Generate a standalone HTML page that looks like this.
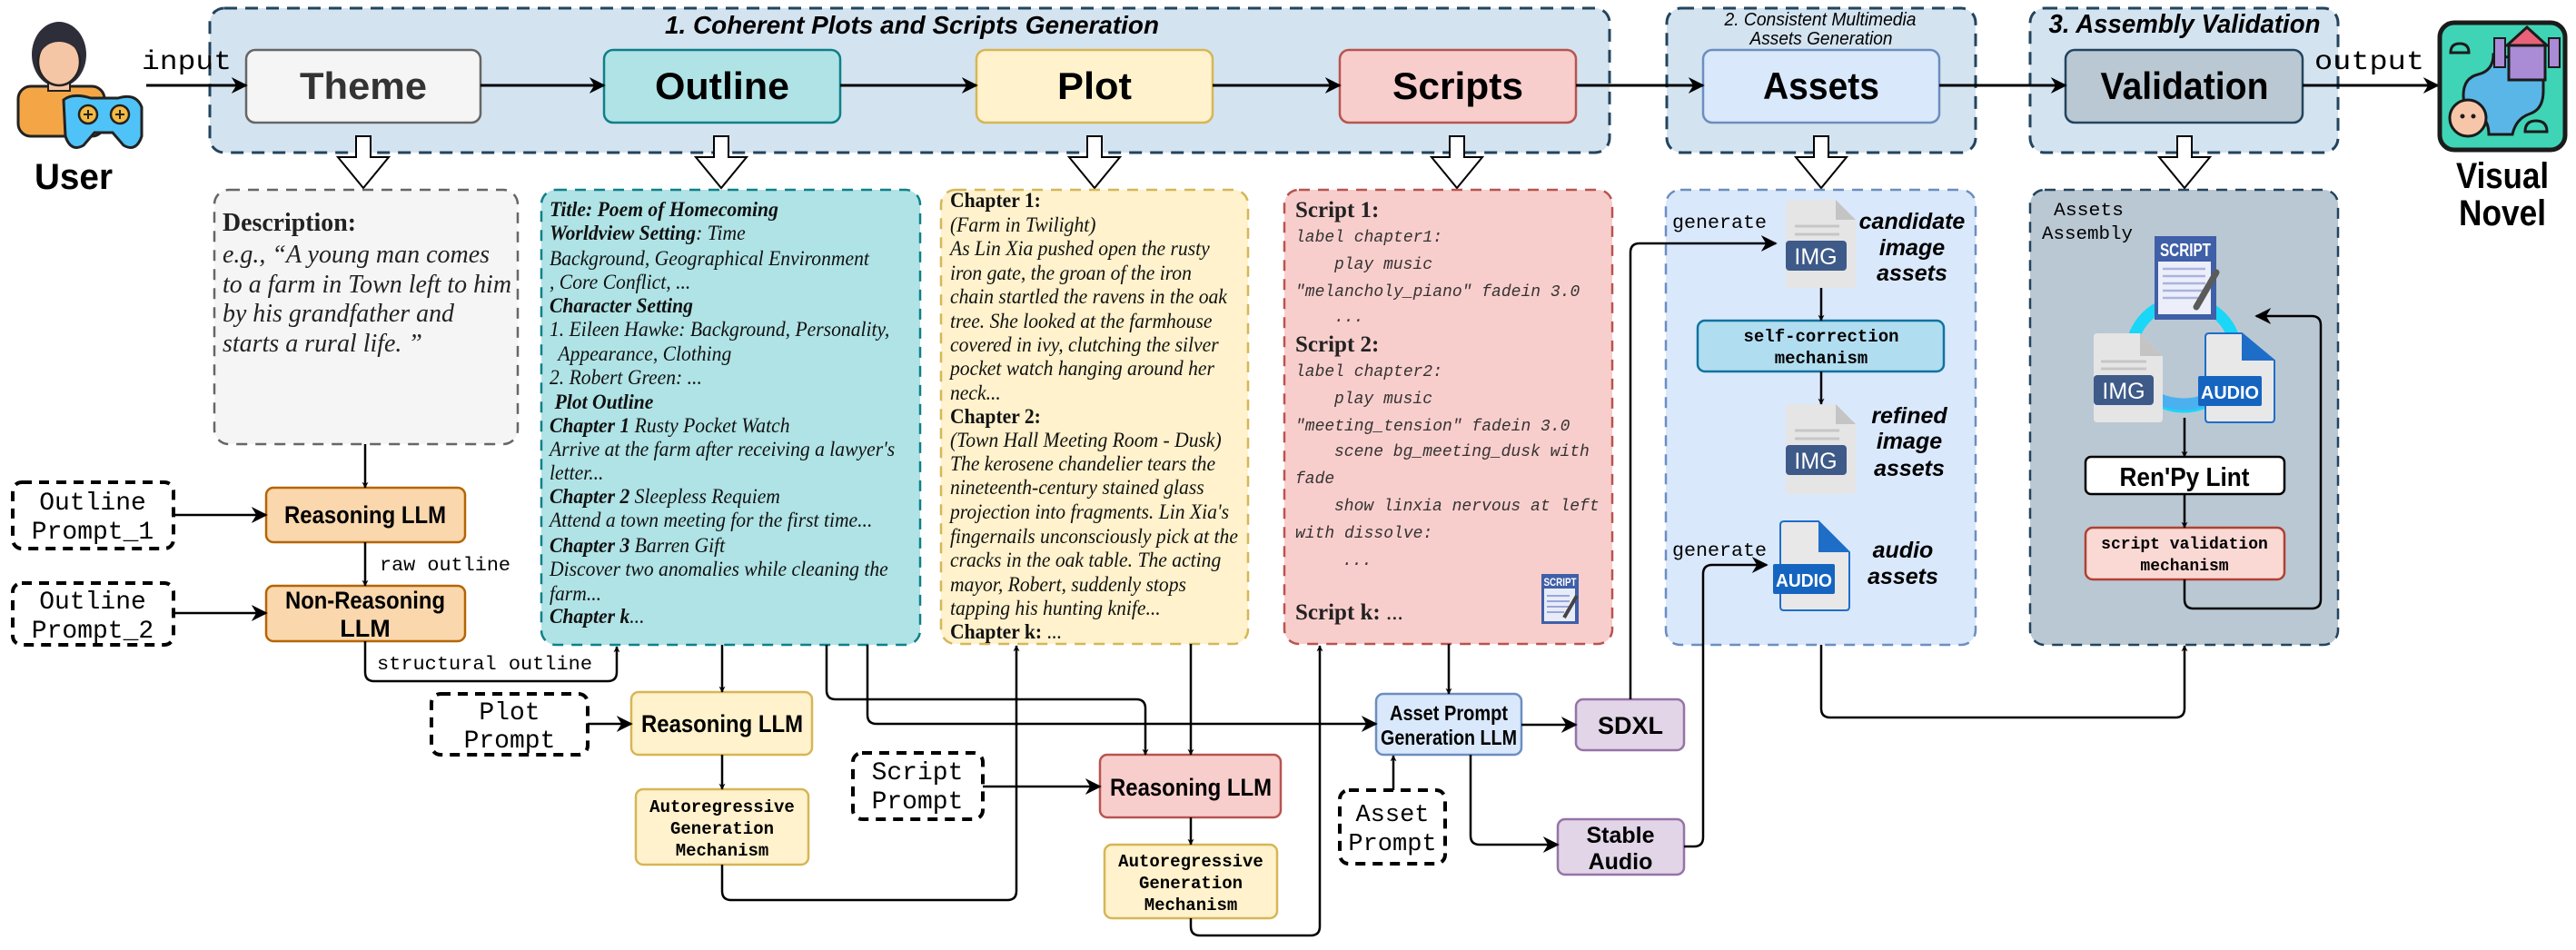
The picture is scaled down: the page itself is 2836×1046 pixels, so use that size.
<!DOCTYPE html>
<html><head><meta charset="utf-8"><style>
html,body{margin:0;padding:0;background:#fff;}
svg{display:block;}
.mono{font-family:"Liberation Mono",monospace;}
.sans{font-family:"Liberation Sans",sans-serif;}
.serif{font-family:"Liberation Serif",serif;}
</style></head><body>
<svg width="2836" height="1046" viewBox="0 0 2836 1046" xmlns="http://www.w3.org/2000/svg">
<defs>
<marker id="ah" viewBox="0 0 10 10" refX="9" refY="5" markerWidth="7" markerHeight="7" markerUnits="userSpaceOnUse" orient="auto"><path d="M0,0 L10,5 L0,10 L3,5 Z" fill="#000"/></marker>
<marker id="ab" viewBox="0 0 10 10" refX="9" refY="5" markerWidth="18" markerHeight="18" markerUnits="userSpaceOnUse" orient="auto"><path d="M0,0 L10,5 L0,10 L3,5 Z" fill="#000"/></marker>
</defs>

<rect x="231" y="9" width="1541" height="159" rx="16" fill="#d4e3f0" stroke="#23445d" stroke-width="3" stroke-dasharray="14 9"/>
<rect x="1835" y="9" width="340" height="159" rx="16" fill="#d4e3f0" stroke="#23445d" stroke-width="3" stroke-dasharray="14 9"/>
<rect x="2235" y="9" width="339" height="159" rx="16" fill="#d4e3f0" stroke="#23445d" stroke-width="3" stroke-dasharray="14 9"/>

<text x="1004" y="37" text-anchor="middle" class="sans" font-size="28" font-style="italic" font-weight="bold" textLength="544" lengthAdjust="spacingAndGlyphs">1. Coherent Plots and Scripts Generation</text>
<text x="2004" y="28" text-anchor="middle" class="sans" font-size="20" font-style="italic" textLength="211" lengthAdjust="spacingAndGlyphs">2. Consistent Multimedia</text>
<text x="2005" y="49" text-anchor="middle" class="sans" font-size="20" font-style="italic" textLength="157" lengthAdjust="spacingAndGlyphs">Assets Generation</text>
<text x="2405" y="36" text-anchor="middle" class="sans" font-size="29" font-style="italic" font-weight="bold" textLength="299" lengthAdjust="spacingAndGlyphs">3. Assembly Validation</text>

<rect x="271" y="55" width="258" height="80" rx="10" fill="#f5f5f5" stroke="#666" stroke-width="2.5"/>
<text x="400" y="109" text-anchor="middle" class="sans" font-size="42" font-weight="bold" fill="#333" textLength="140" lengthAdjust="spacingAndGlyphs">Theme</text>
<rect x="665" y="55" width="260" height="80" rx="10" fill="#b0e3e6" stroke="#0e8088" stroke-width="2.5"/>
<text x="795" y="109" text-anchor="middle" class="sans" font-size="42" font-weight="bold" textLength="148" lengthAdjust="spacingAndGlyphs">Outline</text>
<rect x="1075" y="55" width="260" height="80" rx="10" fill="#fff2cc" stroke="#d6b656" stroke-width="2.5"/>
<text x="1205" y="109" text-anchor="middle" class="sans" font-size="42" font-weight="bold" textLength="82" lengthAdjust="spacingAndGlyphs">Plot</text>
<rect x="1475" y="55" width="260" height="80" rx="10" fill="#f8cecc" stroke="#b85450" stroke-width="2.5"/>
<text x="1605" y="109" text-anchor="middle" class="sans" font-size="42" font-weight="bold" textLength="144" lengthAdjust="spacingAndGlyphs">Scripts</text>
<rect x="1875" y="55" width="260" height="80" rx="10" fill="#dae8fc" stroke="#6c8ebf" stroke-width="2.5"/>
<text x="2005" y="109" text-anchor="middle" class="sans" font-size="42" font-weight="bold" textLength="128" lengthAdjust="spacingAndGlyphs">Assets</text>
<rect x="2274" y="55" width="261" height="80" rx="10" fill="#bac8d3" stroke="#23445d" stroke-width="2.5"/>
<text x="2405" y="109" text-anchor="middle" class="sans" font-size="42" font-weight="bold" textLength="185" lengthAdjust="spacingAndGlyphs">Validation</text>

<g stroke="#000" stroke-width="3" fill="none">
<line x1="161" y1="94" x2="271" y2="94" marker-end="url(#ab)"/>
<line x1="529" y1="94" x2="665" y2="94" marker-end="url(#ab)"/>
<line x1="925" y1="94" x2="1075" y2="94" marker-end="url(#ab)"/>
<line x1="1335" y1="94" x2="1475" y2="94" marker-end="url(#ab)"/>
<line x1="1735" y1="94" x2="1875" y2="94" marker-end="url(#ab)"/>
<line x1="2135" y1="94" x2="2274" y2="94" marker-end="url(#ab)"/>
<line x1="2535" y1="94" x2="2684" y2="94" marker-end="url(#ab)"/>
</g>
<text x="156" y="76" class="mono" font-size="30" textLength="99" lengthAdjust="spacingAndGlyphs">input</text>
<text x="2548" y="76" class="mono" font-size="30" textLength="121" lengthAdjust="spacingAndGlyphs">output</text>

<g fill="#fff" stroke="#000" stroke-width="2">
<path d="M392,150 H408 V173 H428 L400,207 L372,173 H392 Z"/>
<path d="M786,150 H802 V173 H822 L794,207 L766,173 H786 Z"/>
<path d="M1197,150 H1213 V173 H1233 L1205,207 L1177,173 H1197 Z"/>
<path d="M1596,150 H1612 V173 H1632 L1604,207 L1576,173 H1596 Z"/>
<path d="M1997,150 H2013 V173 H2033 L2005,207 L1977,173 H1997 Z"/>
<path d="M2397,150 H2413 V173 H2433 L2405,207 L2377,173 H2397 Z"/>
</g>

<g>
<rect x="20" y="95" width="95" height="55" rx="14" fill="#f4a646" stroke="#222" stroke-width="3"/>
<ellipse cx="65" cy="60" rx="30" ry="36" fill="#2e2e3a"/>
<rect x="53" y="80" width="24" height="20" fill="#f5c6a5" stroke="#222" stroke-width="2"/>
<ellipse cx="65" cy="68" rx="23" ry="26" fill="#f5c6a5" stroke="#222" stroke-width="2.5"/>
<path d="M42,62 Q45,30 65,32 Q88,30 90,62 Q80,46 65,46 Q50,46 42,62Z" fill="#2e2e3a"/>
<path d="M70,110 Q80,102 100,108 L130,108 Q150,102 156,118 L156,150 Q150,168 136,160 L124,146 L104,146 L92,160 Q78,168 72,150 Z" fill="#4fc3f7" stroke="#222" stroke-width="3"/>
<circle cx="97" cy="126" r="10" fill="#f4b942" stroke="#222" stroke-width="2.5"/>
<circle cx="132" cy="126" r="10" fill="#f4b942" stroke="#222" stroke-width="2.5"/>
<path d="M92,126 H102 M97,121 V131 M127,126 H137 M132,121 V131" stroke="#222" stroke-width="2"/>
</g>
<text x="38" y="208" class="sans" font-size="40" font-weight="bold" textLength="86" lengthAdjust="spacingAndGlyphs">User</text>

<g>
<rect x="2686" y="25" width="138" height="140" rx="16" fill="#3fd4b6" stroke="#1b1b1b" stroke-width="5"/>
<path d="M2745,60 Q2745,78 2728,82 Q2712,86 2712,105 Q2712,120 2726,125 Q2740,130 2740,148 L2766,148 Q2770,130 2786,125 Q2800,120 2800,100 L2800,70 Z" fill="#5ab6e6" stroke="#1b1b1b" stroke-width="3"/>
<rect x="2762" y="50" width="40" height="38" fill="#a98bd6" stroke="#1b1b1b" stroke-width="3"/>
<path d="M2760,50 L2782,30 L2804,50 Z" fill="#e8627a" stroke="#1b1b1b" stroke-width="3"/>
<rect x="2746" y="42" width="12" height="32" fill="#a98bd6" stroke="#1b1b1b" stroke-width="2"/>
<rect x="2806" y="42" width="12" height="32" fill="#a98bd6" stroke="#1b1b1b" stroke-width="2"/>
<circle cx="2717" cy="130" r="20" fill="#f7c6a8" stroke="#1b1b1b" stroke-width="3"/>
<circle cx="2711" cy="128" r="2.5" fill="#1b1b1b"/><circle cx="2723" cy="128" r="2.5" fill="#1b1b1b"/>
<path d="M2698,58 q0,-10 10,-10 q10,0 10,10 z" fill="#3fd4b6" stroke="#1b1b1b" stroke-width="3"/>
<path d="M2780,145 q0,-12 12,-12 q12,0 12,12 z" fill="#3fd4b6" stroke="#1b1b1b" stroke-width="3"/>
</g>
<text x="2755" y="207" text-anchor="middle" class="sans" font-size="40" font-weight="bold" textLength="102" lengthAdjust="spacingAndGlyphs">Visual</text>
<text x="2755" y="248" text-anchor="middle" class="sans" font-size="40" font-weight="bold" textLength="96" lengthAdjust="spacingAndGlyphs">Novel</text>

<rect x="236" y="209" width="334" height="280" rx="16" fill="#f5f5f5" stroke="#666" stroke-width="2.5" stroke-dasharray="12 9"/>
<rect x="596" y="209" width="417" height="501" rx="16" fill="#b0e3e6" stroke="#0e8088" stroke-width="2.5" stroke-dasharray="12 9"/>
<rect x="1036" y="209" width="338" height="500" rx="16" fill="#fff2cc" stroke="#d6b656" stroke-width="2.5" stroke-dasharray="12 9"/>
<rect x="1414" y="209" width="361" height="500" rx="16" fill="#f8cecc" stroke="#b85450" stroke-width="2.5" stroke-dasharray="12 9"/>
<rect x="1834" y="209" width="341" height="501" rx="16" fill="#dae8fc" stroke="#6c8ebf" stroke-width="2.5" stroke-dasharray="12 9"/>
<rect x="2235" y="209" width="339" height="501" rx="16" fill="#bac8d3" stroke="#23445d" stroke-width="2.5" stroke-dasharray="12 9"/>

<g class="serif" fill="#222">
<text x="245" y="254" font-size="28" font-weight="bold" textLength="147" lengthAdjust="spacingAndGlyphs">Description:</text>
<g font-size="28" font-style="italic">
<text x="245" y="289" textLength="294" lengthAdjust="spacingAndGlyphs">e.g., “A young man comes</text>
<text x="245" y="322" textLength="318" lengthAdjust="spacingAndGlyphs">to a farm in Town left to him</text>
<text x="245" y="354" textLength="255" lengthAdjust="spacingAndGlyphs">by his grandfather and</text>
<text x="245" y="387" textLength="220" lengthAdjust="spacingAndGlyphs">starts a rural life. ”</text>
</g></g>

<g class="serif" font-size="23" font-style="italic" fill="#111" transform="translate(605,0) scale(0.94,1) translate(-605,0)">
<text x="605" y="238" font-weight="bold">Title: Poem of Homecoming</text>
<text x="605" y="264"><tspan font-weight="bold">Worldview Setting</tspan>: Time</text>
<text x="605" y="292">Background, Geographical Environment</text>
<text x="605" y="318">, Core Conflict, ...</text>
<text x="605" y="344" font-weight="bold">Character Setting</text>
<text x="605" y="370">1. Eileen Hawke: Background, Personality,</text>
<text x="615" y="397">Appearance, Clothing</text>
<text x="605" y="423">2. Robert Green: ...</text>
<text x="611" y="450" font-weight="bold">Plot Outline</text>
<text x="605" y="476"><tspan font-weight="bold">Chapter 1</tspan> Rusty Pocket Watch</text>
<text x="605" y="502">Arrive at the farm after receiving a lawyer's</text>
<text x="605" y="528">letter...</text>
<text x="605" y="554"><tspan font-weight="bold">Chapter 2</tspan> Sleepless Requiem</text>
<text x="605" y="580">Attend a town meeting for the first time...</text>
<text x="605" y="608"><tspan font-weight="bold">Chapter 3</tspan> Barren Gift</text>
<text x="605" y="634">Discover two anomalies while cleaning the</text>
<text x="605" y="661">farm...</text>
<text x="605" y="686"><tspan font-weight="bold">Chapter k</tspan>...</text>
</g>

<g class="serif" font-size="23" fill="#111" transform="translate(1046,0) scale(0.94,1) translate(-1046,0)">
<text x="1046" y="228" font-weight="bold">Chapter 1:</text>
<g font-style="italic">
<text x="1046" y="255">(Farm in Twilight)</text>
<text x="1046" y="281">As Lin Xia pushed open the rusty</text>
<text x="1046" y="308">iron gate, the groan of the iron</text>
<text x="1046" y="334">chain startled the ravens in the oak</text>
<text x="1046" y="361">tree. She looked at the farmhouse</text>
<text x="1046" y="387">covered in ivy, clutching the silver</text>
<text x="1046" y="413">pocket watch hanging around her</text>
<text x="1046" y="440">neck...</text>
</g>
<text x="1046" y="466" font-weight="bold">Chapter 2:</text>
<g font-style="italic">
<text x="1046" y="492">(Town Hall Meeting Room - Dusk)</text>
<text x="1046" y="518">The kerosene chandelier tears the</text>
<text x="1046" y="544">nineteenth-century stained glass</text>
<text x="1046" y="571">projection into fragments. Lin Xia's</text>
<text x="1046" y="598">fingernails unconsciously pick at the</text>
<text x="1046" y="624">cracks in the oak table. The acting</text>
<text x="1046" y="651">mayor, Robert, suddenly stops</text>
<text x="1046" y="677">tapping his hunting knife...</text>
</g>
<text x="1046" y="703"><tspan font-weight="bold">Chapter k:</tspan> ...</text>
</g>

<g fill="#222">
<text x="1426" y="239" class="serif" font-size="25" font-weight="bold">Script 1:</text>
<g class="mono" font-size="18" font-style="italic" fill="#333">
<text x="1426" y="266">label chapter1:</text>
<text x="1469" y="296">play music</text>
<text x="1426" y="326">"melancholy_piano" fadein 3.0</text>
<text x="1469" y="354">...</text>
</g>
<text x="1426" y="387" class="serif" font-size="25" font-weight="bold">Script 2:</text>
<g class="mono" font-size="18" font-style="italic" fill="#333">
<text x="1426" y="414">label chapter2:</text>
<text x="1469" y="444">play music</text>
<text x="1426" y="474">"meeting_tension" fadein 3.0</text>
<text x="1469" y="502">scene bg_meeting_dusk with</text>
<text x="1426" y="532">fade</text>
<text x="1469" y="562">show linxia nervous at left</text>
<text x="1426" y="592">with dissolve:</text>
<text x="1478" y="622">...</text>
</g>
<text x="1426" y="682" class="serif" font-size="25"><tspan font-weight="bold">Script k:</tspan> ...</text>
</g>
<g>
<rect x="1697" y="632" width="41" height="55" fill="#3f5fa8"/>
<rect x="1700" y="648" width="34" height="36" fill="#e8ecf8"/>
<text x="1717.5" y="645" text-anchor="middle" class="sans" font-size="12" font-weight="bold" fill="#fff" textLength="36" lengthAdjust="spacingAndGlyphs">SCRIPT</text>
<path d="M1703,656 H1728 M1703,662 H1728 M1703,668 H1728 M1703,674 H1722" stroke="#9aa6d8" stroke-width="2"/>
<path d="M1722,680 L1736,656" stroke="#444" stroke-width="4"/>
</g>

<text x="1841" y="251" class="mono" font-size="21" textLength="104" lengthAdjust="spacingAndGlyphs">generate</text>
<g>
<path d="M1970,220 H2021 L2043,242 V313 Q2043,317 2039,317 H1970 Q1966,317 1966,313 V224 Q1966,220 1970,220Z" fill="#e5e5e5"/>
<path d="M2021,220 V242 H2043Z" fill="#c4c4c4"/>
<path d="M1976,249 H2025 M1976,258 H2025" stroke="#c6c6c6" stroke-width="3"/>
<rect x="1966" y="265" width="67" height="33" rx="4" fill="#3d5a88"/>
<text x="1999" y="291" text-anchor="middle" class="sans" font-size="25" fill="#fff">IMG</text>
</g>
<g class="sans" font-size="25" font-style="italic" font-weight="bold" text-anchor="middle">
<text x="2105" y="252">candidate</text>
<text x="2105" y="281">image</text>
<text x="2105" y="309">assets</text>
</g>
<rect x="1869" y="353" width="271" height="56" rx="8" fill="#b1ddf0" stroke="#10739e" stroke-width="2.5"/>
<g class="mono" font-size="19" font-weight="bold" text-anchor="middle">
<text x="2005" y="376">self-correction</text>
<text x="2005" y="400">mechanism</text>
</g>
<g>
<path d="M1970,445 H2021 L2043,467 V540 Q2043,544 2039,544 H1970 Q1966,544 1966,540 V449 Q1966,445 1970,445Z" fill="#e5e5e5"/>
<path d="M2021,445 V467 H2043Z" fill="#c4c4c4"/>
<path d="M1976,474 H2025 M1976,483 H2025" stroke="#c6c6c6" stroke-width="3"/>
<rect x="1966" y="490" width="67" height="33" rx="4" fill="#3d5a88"/>
<text x="1999" y="516" text-anchor="middle" class="sans" font-size="25" fill="#fff">IMG</text>
</g>
<g class="sans" font-size="25" font-style="italic" font-weight="bold" text-anchor="middle">
<text x="2102" y="466">refined</text>
<text x="2102" y="494">image</text>
<text x="2102" y="524">assets</text>
</g>
<text x="1841" y="612" class="mono" font-size="21" textLength="104" lengthAdjust="spacingAndGlyphs">generate</text>
<g>
<path d="M1964,574 H2002 L2036,608 V668 Q2036,672 2032,672 H1964 Q1960,672 1960,668 V578 Q1960,574 1964,574Z" fill="#e8e8e8" stroke="#1e6ec8" stroke-width="2"/>
<path d="M2002,574 V608 H2036Z" fill="#1e6ec8"/>
<rect x="1952" y="621" width="68" height="33" rx="2" fill="#1565c0"/>
<text x="1986" y="646" text-anchor="middle" class="sans" font-size="20" font-weight="bold" fill="#fff" textLength="62" lengthAdjust="spacingAndGlyphs">AUDIO</text>
</g>
<g class="sans" font-size="25" font-style="italic" font-weight="bold" text-anchor="middle">
<text x="2095" y="614">audio</text>
<text x="2095" y="643">assets</text>
</g>

<g class="mono" font-size="20">
<text x="2261" y="237" textLength="77" lengthAdjust="spacingAndGlyphs">Assets</text>
<text x="2248" y="263" textLength="100" lengthAdjust="spacingAndGlyphs">Assembly</text>
</g>
<circle cx="2404" cy="390" r="58" fill="none" stroke="#1ad6f7" stroke-width="13"/>
<path d="M2346,420 Q2404,470 2462,420" fill="none" stroke="#4ab0f0" stroke-width="13"/>
<g>
<rect x="2372" y="260" width="68" height="92" fill="#3f5fa8"/>
<rect x="2376" y="288" width="58" height="58" fill="#eceff9"/>
<text x="2406" y="282" text-anchor="middle" class="sans" font-size="20" font-weight="bold" fill="#fff" textLength="56" lengthAdjust="spacingAndGlyphs">SCRIPT</text>
<path d="M2381,296 H2428 M2381,304 H2428 M2381,312 H2428 M2381,320 H2428 M2381,328 H2420" stroke="#aab3e0" stroke-width="2.5"/>
<path d="M2418,338 L2440,300" stroke="#5a5a5a" stroke-width="7" stroke-linecap="round"/>
</g>
<g>
<path d="M2309,367 H2356 L2381,392 V461 Q2381,465 2377,465 H2309 Q2305,465 2305,461 V371 Q2305,367 2309,367Z" fill="#e5e5e5"/>
<path d="M2356,367 V392 H2381Z" fill="#c4c4c4"/>
<path d="M2313,398 H2363 M2313,406 H2363" stroke="#c6c6c6" stroke-width="3"/>
<rect x="2305" y="413" width="66" height="33" rx="4" fill="#3d5a88"/>
<text x="2338" y="439" text-anchor="middle" class="sans" font-size="25" fill="#fff">IMG</text>
</g>
<g>
<path d="M2432,367 H2468 L2504,397 V461 Q2504,465 2500,465 H2432 Q2428,465 2428,461 V371 Q2428,367 2432,367Z" fill="#e8e8e8" stroke="#1e6ec8" stroke-width="2"/>
<path d="M2468,367 V397 H2504Z" fill="#1e6ec8"/>
<rect x="2420" y="414" width="70" height="33" rx="2" fill="#1565c0"/>
<text x="2455" y="439" text-anchor="middle" class="sans" font-size="20" font-weight="bold" fill="#fff" textLength="64" lengthAdjust="spacingAndGlyphs">AUDIO</text>
</g>
<rect x="2296" y="503" width="219" height="41" rx="6" fill="#fff" stroke="#000" stroke-width="2.5"/>
<text x="2405" y="535" text-anchor="middle" class="sans" font-size="29" font-weight="bold" textLength="143" lengthAdjust="spacingAndGlyphs">Ren'Py Lint</text>
<rect x="2296" y="581" width="219" height="57" rx="8" fill="#fad9d5" stroke="#ae4132" stroke-width="2.5"/>
<g class="mono" font-size="18" font-weight="bold" text-anchor="middle">
<text x="2405" y="604">script validation</text>
<text x="2405" y="628">mechanism</text>
</g>

<rect x="14" y="531" width="177" height="73" rx="10" fill="#fff" stroke="#000" stroke-width="4" stroke-dasharray="11 8"/>
<g class="mono" font-size="28" text-anchor="middle"><text x="102" y="561">Outline</text><text x="102" y="593">Prompt_1</text></g>
<rect x="14" y="642" width="177" height="68" rx="10" fill="#fff" stroke="#000" stroke-width="4" stroke-dasharray="11 8"/>
<g class="mono" font-size="28" text-anchor="middle"><text x="102" y="670">Outline</text><text x="102" y="702">Prompt_2</text></g>

<rect x="293" y="537" width="219" height="60" rx="8" fill="#fad7ac" stroke="#b46504" stroke-width="2.5"/>
<text x="402" y="576" text-anchor="middle" class="sans" font-size="27" font-weight="bold" textLength="178" lengthAdjust="spacingAndGlyphs">Reasoning LLM</text>
<rect x="293" y="645" width="219" height="61" rx="8" fill="#fad7ac" stroke="#b46504" stroke-width="2.5"/>
<text x="402" y="670" text-anchor="middle" class="sans" font-size="27" font-weight="bold" textLength="176" lengthAdjust="spacingAndGlyphs">Non-Reasoning</text>
<text x="402" y="701" text-anchor="middle" class="sans" font-size="27" font-weight="bold">LLM</text>
<text x="418" y="628" class="mono" font-size="21" textLength="144" lengthAdjust="spacingAndGlyphs">raw outline</text>
<text x="415" y="737" class="mono" font-size="21" textLength="237" lengthAdjust="spacingAndGlyphs">structural outline</text>

<rect x="475" y="764" width="172" height="67" rx="10" fill="#fff" stroke="#000" stroke-width="4" stroke-dasharray="11 8"/>
<g class="mono" font-size="28" text-anchor="middle"><text x="561" y="792">Plot</text><text x="561" y="823">Prompt</text></g>
<rect x="695" y="762" width="199" height="69" rx="8" fill="#fff2cc" stroke="#d6b656" stroke-width="2.5"/>
<text x="795" y="806" text-anchor="middle" class="sans" font-size="27" font-weight="bold" textLength="178" lengthAdjust="spacingAndGlyphs">Reasoning LLM</text>
<rect x="700" y="869" width="190" height="83" rx="8" fill="#fff2cc" stroke="#d6b656" stroke-width="2.5"/>
<g class="mono" font-size="19" font-weight="bold" text-anchor="middle"><text x="795" y="894">Autoregressive</text><text x="795" y="918">Generation</text><text x="795" y="942">Mechanism</text></g>

<rect x="939" y="829" width="143" height="73" rx="10" fill="#fff" stroke="#000" stroke-width="4" stroke-dasharray="11 8"/>
<g class="mono" font-size="28" text-anchor="middle"><text x="1010" y="858">Script</text><text x="1010" y="890">Prompt</text></g>
<rect x="1211" y="831" width="199" height="69" rx="8" fill="#f8cecc" stroke="#b85450" stroke-width="2.5"/>
<text x="1311" y="876" text-anchor="middle" class="sans" font-size="27" font-weight="bold" textLength="178" lengthAdjust="spacingAndGlyphs">Reasoning LLM</text>
<rect x="1216" y="930" width="190" height="81" rx="8" fill="#fff2cc" stroke="#d6b656" stroke-width="2.5"/>
<g class="mono" font-size="19" font-weight="bold" text-anchor="middle"><text x="1311" y="954">Autoregressive</text><text x="1311" y="978">Generation</text><text x="1311" y="1002">Mechanism</text></g>

<rect x="1515" y="764" width="160" height="67" rx="8" fill="#dae8fc" stroke="#6c8ebf" stroke-width="2.5"/>
<g class="sans" font-size="23" font-weight="bold" text-anchor="middle"><text x="1595" y="793" textLength="130" lengthAdjust="spacingAndGlyphs">Asset Prompt</text><text x="1595" y="820" textLength="150" lengthAdjust="spacingAndGlyphs">Generation LLM</text></g>
<rect x="1475" y="870" width="116" height="81" rx="10" fill="#fff" stroke="#000" stroke-width="4" stroke-dasharray="11 8"/>
<g class="mono" font-size="27" text-anchor="middle"><text x="1533" y="904">Asset</text><text x="1533" y="936">Prompt</text></g>
<rect x="1735" y="770" width="119" height="56" rx="8" fill="#e1d5e7" stroke="#9673a6" stroke-width="2.5"/>
<text x="1795" y="808" text-anchor="middle" class="sans" font-size="27" font-weight="bold">SDXL</text>
<rect x="1715" y="902" width="139" height="61" rx="8" fill="#e1d5e7" stroke="#9673a6" stroke-width="2.5"/>
<g class="sans" font-size="25" font-weight="bold" text-anchor="middle"><text x="1784" y="928">Stable</text><text x="1784" y="957">Audio</text></g>

<g stroke="#000" stroke-width="2.5" fill="none">
<line x1="402" y1="489" x2="402" y2="537" marker-end="url(#ah)"/>
<line x1="191" y1="567" x2="293" y2="567" marker-end="url(#ab)"/>
<line x1="402" y1="597" x2="402" y2="645" marker-end="url(#ah)"/>
<line x1="191" y1="675" x2="293" y2="675" marker-end="url(#ab)"/>
<path d="M402,706 V740 Q402,750 412,750 H669 Q679,750 679,740 V712" marker-end="url(#ah)"/>
<line x1="795" y1="710" x2="795" y2="762" marker-end="url(#ah)"/>
<line x1="647" y1="797" x2="695" y2="797" marker-end="url(#ab)"/>
<line x1="795" y1="831" x2="795" y2="869" marker-end="url(#ah)"/>
<path d="M795,952 V981 Q795,991 805,991 H1109 Q1119,991 1119,981 V711" marker-end="url(#ah)"/>
<path d="M910,710 V760 Q910,770 920,770 H1251 Q1261,770 1261,780 V831" marker-end="url(#ah)"/>
<path d="M955,710 V787 Q955,797 965,797 H1515" marker-end="url(#ab)"/>
<line x1="1311" y1="709" x2="1311" y2="831" marker-end="url(#ah)"/>
<line x1="1082" y1="866" x2="1211" y2="866" marker-end="url(#ab)"/>
<line x1="1311" y1="900" x2="1311" y2="930" marker-end="url(#ah)"/>
<path d="M1311,1011 V1020 Q1311,1030 1321,1030 H1443 Q1453,1030 1453,1020 V711" marker-end="url(#ah)"/>
<line x1="1595" y1="709" x2="1595" y2="764" marker-end="url(#ah)"/>
<line x1="1534" y1="870" x2="1534" y2="832" marker-end="url(#ah)"/>
<line x1="1675" y1="798" x2="1735" y2="798" marker-end="url(#ab)"/>
<path d="M1619,831 V920 Q1619,930 1629,930 H1715" marker-end="url(#ab)"/>
<path d="M1795,770 V278 Q1795,268 1805,268 H1955" marker-end="url(#ab)"/>
<path d="M1854,932 H1865 Q1875,932 1875,922 V632 Q1875,622 1885,622 H1945" marker-end="url(#ab)"/>
<line x1="2005" y1="317" x2="2005" y2="353" marker-end="url(#ah)"/>
<line x1="2005" y1="409" x2="2005" y2="445" marker-end="url(#ah)"/>
<path d="M2005,710 V780 Q2005,790 2015,790 H2395 Q2405,790 2405,780 V711" marker-end="url(#ah)"/>
<line x1="2405" y1="460" x2="2405" y2="503" marker-end="url(#ah)"/>
<line x1="2405" y1="544" x2="2405" y2="581" marker-end="url(#ah)"/>
<path d="M2405,638 V660 Q2405,670 2415,670 H2545 Q2555,670 2555,660 V358 Q2555,348 2545,348 H2484" marker-end="url(#ab)"/>
</g>
</svg>
</body></html>
